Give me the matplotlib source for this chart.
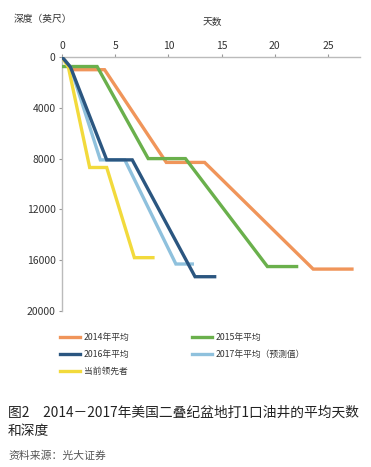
import matplotlib
matplotlib.use("Agg")
import matplotlib.pyplot as plt
from matplotlib.lines import Line2D

plt.rcParams['font.family'] = ['Noto Sans CJK SC', 'DejaVu Sans']

# Data (days, depth in feet)
days_2014 = [0, 1, 4, 9.8, 13.4, 23.6, 27.4]
depth_2014 = [0, 1000, 1000, 8300, 8300, 16700, 16700]
days_2015 = [0, 3.3, 8.1, 11.6, 19.3, 22.2]
depth_2015 = [750, 750, 8000, 8000, 16500, 16500]
days_2016 = [0, 0.8, 4.2, 6.6, 12.5, 14.5]
depth_2016 = [0, 800, 8100, 8100, 17300, 17300]
days_2017 = [0, 0.8, 3.6, 5.9, 10.7, 12.4]
depth_2017 = [0, 800, 8100, 8100, 16300, 16300]
days_lead = [0, 0.6, 2.6, 4.2, 6.8, 8.7]
depth_lead = [0, 800, 8700, 8700, 15800, 15800]

series_labels = ['2014年平均', '2015年平均', '2016年平均', '2017年平均（预测值）', '当前领先者']
colors = ['#F0955A', '#6AB04C', '#2B5680', '#8FC1DD', '#F2DA3C']
x_ticks = [0, 5, 10, 15, 20, 25]
y_ticks = [0, 4000, 8000, 12000, 16000, 20000]

W, H = 371, 467
fig = plt.figure(figsize=(W/100, H/100), dpi=100)
ax = fig.add_axes([62/W, 1-311/H, (360-62)/W, (311-57)/H])

data = [(days_2014, depth_2014), (days_2015, depth_2015), (days_2016, depth_2016),
        (days_2017, depth_2017), (days_lead, depth_lead)]
order = [0, 1, 3, 2, 4]
for i in order:
    d, v = data[i]
    ax.plot(d, v, color=colors[i], lw=2.4, solid_joinstyle='miter', solid_capstyle='butt', zorder=3 + (1 if i == 2 else 0))

ax.set_xlim(0, 28)
ax.set_ylim(20000, 0)
ax.xaxis.tick_top()
ax.set_xticks(x_ticks)
ax.set_yticks(y_ticks)
ax.tick_params(axis='both', labelsize=7.5, colors='#999999', labelcolor='#333333', length=2.5, width=0.8, pad=2)
for s in ['right', 'bottom']:
    ax.spines[s].set_visible(False)
for s in ['left', 'top']:
    ax.spines[s].set_color('#BBBBBB')
    ax.spines[s].set_linewidth(1.0)

fig.text(14/W, 1-19/H, '深度（英尺）', fontsize=7, color='#333333', ha='left', va='center')
fig.text(212/W, 1-22/H, '天数', fontsize=7, color='#333333', ha='center', va='center')

# Legend
leg_pos = [(60, 337), (192, 337), (60, 354), (192, 354), (60, 371)]
for (x, y), lab, c in zip(leg_pos, series_labels, colors):
    fig.add_artist(Line2D([x/W, (x+20)/W], [1-y/H, 1-y/H], color=c, lw=2.4, transform=fig.transFigure))
    fig.text((x+24)/W, 1-y/H, lab, fontsize=6.3, color='#333333', ha='left', va='center')

fig.text(8/W, 1-413/H, '图2　2014－2017年美国二叠纪盆地打1口油井的平均天数', fontsize=9.9, color='#222222', ha='left', va='center')
fig.text(8/W, 1-431/H, '和深度', fontsize=9.9, color='#222222', ha='left', va='center')
fig.text(8/W, 1-456/H, '资料来源：光大证券', fontsize=7.8, color='#555555', ha='left', va='center')

fig.savefig('out.png', dpi=100)
